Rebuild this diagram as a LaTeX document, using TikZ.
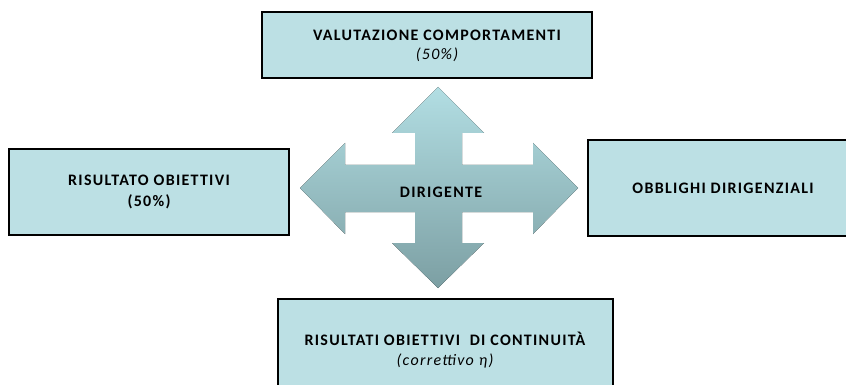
\documentclass[tikz,border=0pt]{standalone}
\usepackage{fontspec}
\setmainfont{Carlito}
\usepackage{xcolor}
\definecolor{boxfill}{HTML}{BCE0E4}
\definecolor{crosstop}{HTML}{B2DEE3}
\definecolor{crossbot}{HTML}{7C9FA3}
\newcommand\boxfont{\bfseries\fontsize{16}{20}\selectfont\addfontfeature{LetterSpace=8}}
\tikzset{box/.style={draw=black,line width=2pt,fill=boxfill,align=center,font=\boxfont}}

\begin{document}
\begin{tikzpicture}[x=1pt,y=-1pt]
        \useasboundingbox (0,0) rectangle (846,385);
        % the cross in the middle
        \fill[top color=crosstop,bottom color=crossbot] (438,87) -- (484,133) -- (462,133) -- (462,165) -- (533,165) -- (533,143) -- (578,188) -- (533,234) -- (533,212) -- (462,212) -- (462,243) -- (484,243) -- (438,288) -- (392,243) -- (415,243) -- (415,212) -- (345,212) -- (345,234) -- (300,188) -- (345,143) -- (345,165) -- (415,165) -- (415,133) -- (392,133) -- cycle;
        \node[font=\boxfont] (dir) at (441,192){DIRIGENTE};
        \node[box,minimum width=330pt,minimum height=66pt] (val) at (427,45){};
        \node[align=center,font=\boxfont] (valt) at (437,46){VALUTAZIONE COMPORTAMENTI\\[-1pt]{\mdseries\itshape (50\%)}};
        \node[box,minimum width=280pt,minimum height=86pt] (ris) at (149,192){RISULTATO OBIETTIVI\\[1pt](50\%)};
        \node[box,minimum width=262pt,minimum height=96pt,anchor=west] (obb) at (587,188){};
        \node[font=\boxfont] (obbt) at (723,188){OBBLIGHI DIRIGENZIALI};
        \node[box,minimum width=335pt,minimum height=100pt,anchor=north] (con) at (445.5,298){};
        \node[align=center,font=\boxfont] (cont) at (445,350){RISULTATI OBIETTIVI\ \ DI CONTINUITÀ\\{\mdseries\itshape (correttivo η)}};
    \end{tikzpicture}
\end{document}
